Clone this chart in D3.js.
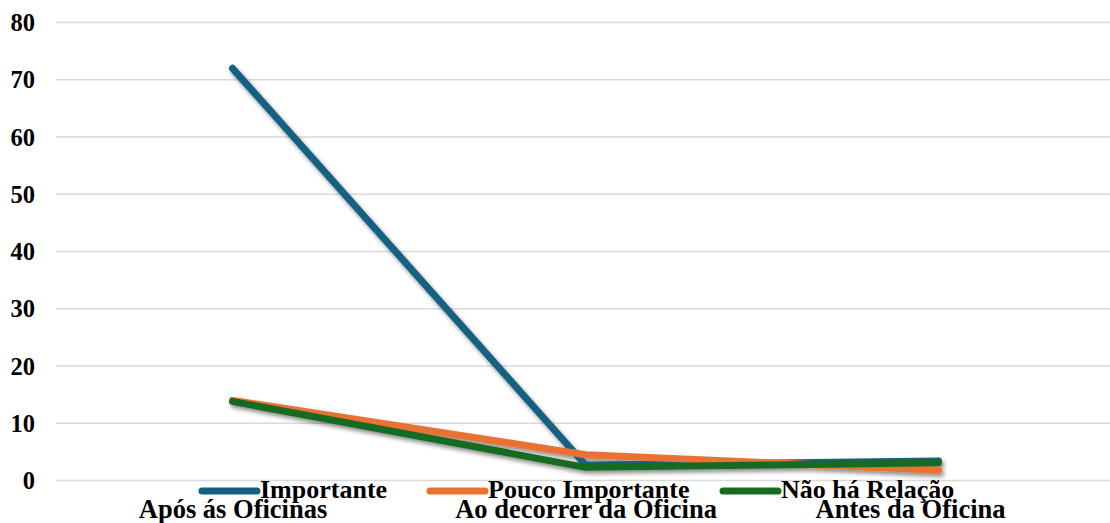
<!DOCTYPE html>
<html>
<head>
<meta charset="utf-8">
<script src="https://cdn.jsdelivr.net/npm/d3@7"></script>
<style>
  html, body { margin: 0; padding: 0; background: #fff; }
  svg { display: block; }
  svg text { font-family: "Liberation Serif", "Tinos", "Times New Roman", "Nimbus Roman", "DejaVu Serif", serif; font-weight: 700; fill: #000; }
</style>
</head>
<body>
<svg id="chart" width="1110" height="523"></svg>
<script>
// Categories along the x axis
const categories = ["Após ás Oficinas", "Ao decorrer da Oficina", "Antes da Oficina"];

// Series values (percentages)
const importante = [72, 2.7, 3.4];
const poucoImportante = [14, 4.5, 1.8];
const naoHaRelacao = [13.8, 2.3, 3.1];

const seriesNames = ["Importante", "Pouco Importante", "Não há Relação"];
const seriesColors = ["#156082", "#E97132", "#196B24"];

const yTicks = [0, 10, 20, 30, 40, 50, 60, 70, 80];

const series = [importante, poucoImportante, naoHaRelacao].map((vals, i) => ({
  name: seriesNames[i],
  color: seriesColors[i],
  values: vals.map((v, j) => ({ cat: categories[j], v }))
}));

const svg = d3.select("#chart");
const W = 1110, H = 523;
const margin = { left: 56, right: -5, top: 22.5, bottom: 42.5 };

const x = d3.scalePoint()
  .domain(categories)
  .range([margin.left, W - margin.right])
  .padding(0.5);

const y = d3.scaleLinear()
  .domain([0, 80])
  .range([H - margin.bottom, margin.top]);

// drop shadow for the series lines
const defs = svg.append("defs");
const f = defs.append("filter").attr("id", "shadow")
  .attr("x", "-10%").attr("y", "-10%").attr("width", "130%").attr("height", "130%");
f.append("feDropShadow")
  .attr("dx", 2).attr("dy", 3).attr("stdDeviation", 2)
  .attr("flood-color", "#000").attr("flood-opacity", 0.45);

// horizontal gridlines
svg.append("g")
  .selectAll("line")
  .data(yTicks)
  .join("line")
  .attr("x1", margin.left)
  .attr("x2", W)
  .attr("y1", d => y(d))
  .attr("y2", d => y(d))
  .attr("stroke", "#d9d9d9")
  .attr("stroke-width", 1.5);

// y axis labels
const yAxis = d3.axisLeft(y).tickValues(yTicks).tickSize(0).tickPadding(0);
const yg = svg.append("g")
  .attr("transform", `translate(35,0)`)
  .call(yAxis)
  .attr("font-family", null);
yg.select(".domain").remove();
yg.selectAll("text")
  .style("font-size", "24.5px")
  .attr("dy", "0.33em");

// x axis category labels
const xAxis = d3.axisBottom(x).tickSize(0).tickPadding(0);
const xg = svg.append("g")
  .attr("transform", `translate(0,${H - 5})`)
  .call(xAxis)
  .attr("font-family", null);
xg.select(".domain").remove();
xg.selectAll("text")
  .style("font-size", "26.5px")
  .attr("dy", 0);

// keep category labels clear of the right edge of the plot
const labelLimit = W - 105;
xg.selectAll(".tick").each(function () {
  const tick = d3.select(this);
  const t = tick.select("text");
  const bb = t.node().getBBox();
  const cx = x(tick.datum());
  const right = cx + bb.x + bb.width;
  if (right > labelLimit) t.attr("x", labelLimit - right);
});

// series lines
const line = d3.line()
  .x(d => x(d.cat))
  .y(d => y(d.v));

svg.append("g")
  .attr("filter", "url(#shadow)")
  .selectAll("path")
  .data(series)
  .join("path")
  .attr("d", d => line(d.values))
  .attr("fill", "none")
  .attr("stroke", d => d.color)
  .attr("stroke-width", 7)
  .attr("stroke-linecap", "round")
  .attr("stroke-linejoin", "round");

// legend
const legendStarts = [202, 430, 723];
const legend = svg.append("g");
const items = legend.selectAll("g")
  .data(series)
  .join("g")
  .attr("transform", (d, i) => `translate(${legendStarts[i]},491)`);
items.append("line")
  .attr("x1", 0).attr("x2", 55)
  .attr("y1", 0).attr("y2", 0)
  .attr("stroke", d => d.color)
  .attr("stroke-width", 7)
  .attr("stroke-linecap", "round");
items.append("text")
  .attr("x", 58)
  .attr("y", 7)
  .style("font-size", "26px")
  .text(d => d.name);
</script>
</body>
</html>
